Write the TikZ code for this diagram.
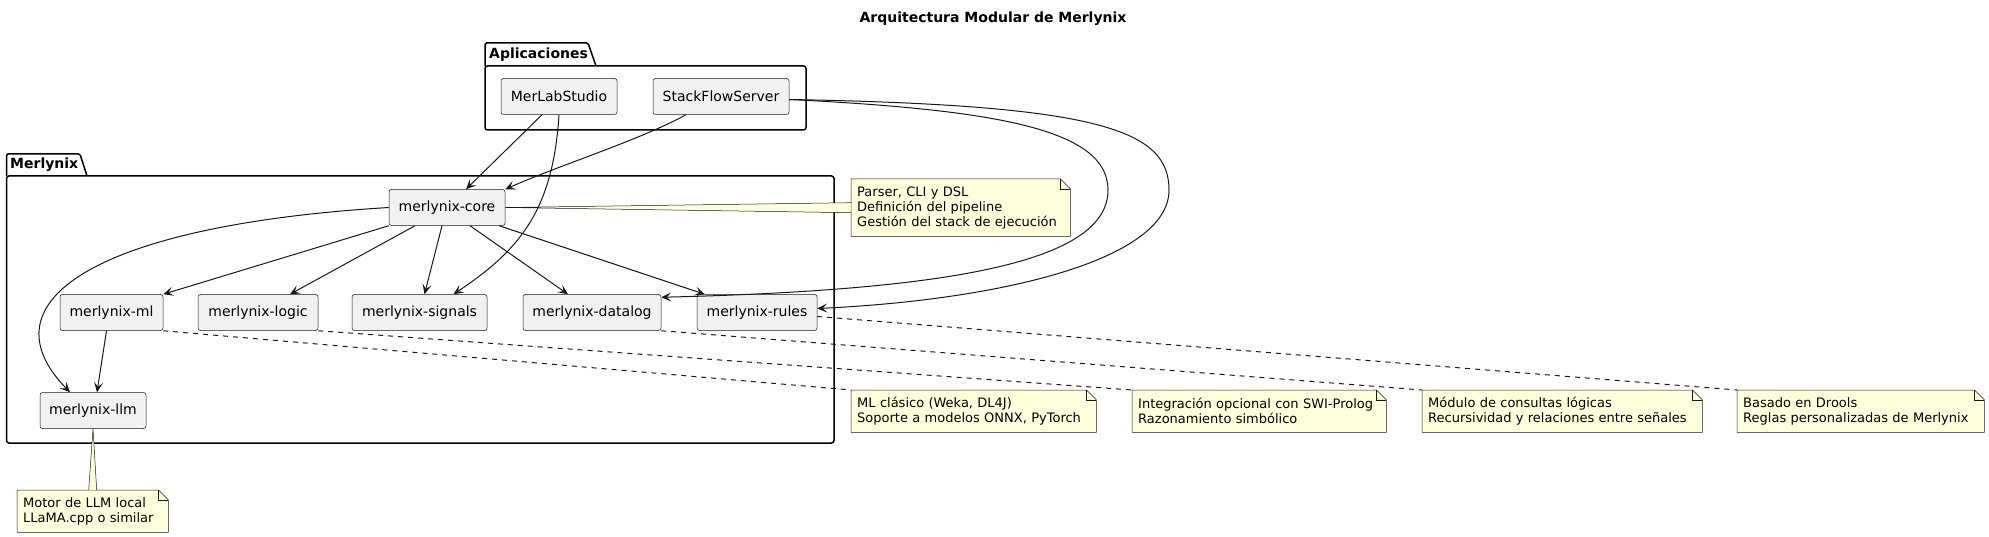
\documentclass[tikz,border=0pt]{standalone}
\usepackage{fontspec}
\setmainfont{DejaVu Sans}
\usetikzlibrary{arrows.meta}
\definecolor{linecol}{HTML}{181818}
\definecolor{compfill}{HTML}{F1F1F1}
\definecolor{notefill}{HTML}{FEFFDD}

\begin{document}
\begin{tikzpicture}[x=1pt,y=-1pt,
  comp/.style={rectangle,rounded corners=2.5pt,draw=linecol,line width=0.5pt,fill=compfill,
    minimum height=36pt,inner sep=0pt,font=\fontsize{14}{16}\selectfont},
  notebox/.style={rectangle,fill=notefill,anchor=north west,inner xsep=6pt,inner ysep=0pt,
    align=left,font=\fontsize{13}{15}\selectfont},
  pkg/.style={draw=black,line width=1.5pt},
  pkglabel/.style={anchor=west,inner sep=0pt,font=\fontsize{14}{16}\selectfont\bfseries},
  dep/.style={draw=linecol,line width=1pt,-{Stealth[length=10pt,width=9pt,inset=4.5pt]}},
  link/.style={draw=linecol,line width=1pt,dash pattern=on 5pt off 5pt},
  tail/.style={fill=notefill,draw=linecol,line width=0.5pt}]

  \useasboundingbox (0,0) rectangle (1989,537);
  \node[font=\fontsize{14}{16}\selectfont\bfseries] (title) at (993,19) {Arquitectura Modular de Merlynix};

  \draw[pkg,rounded corners=1.5pt] (485,66) -- (485,43) -- (588,43) -- (596,66);
  \draw[pkg,rounded corners=2.5pt] (485,66) rectangle (806,130);
  \node[pkglabel] (apps) at (489,55) {Aplicaciones};

  \draw[pkg,rounded corners=1.5pt] (6.5,176) -- (6.5,154) -- (80,154) -- (87,176);
  \draw[pkg,rounded corners=2.5pt] (6.5,176) rectangle (834,443);
  \node[pkglabel] (merlynix) at (10,165) {Merlynix};

  \node[comp,minimum width=116pt] (merlab) at (559,96.5) {MerLabStudio};
  \node[comp,minimum width=136pt] (stackflow) at (721,96.5) {StackFlowServer};
  \node[comp,minimum width=116pt] (core) at (447,207.5) {merlynix-core};
  \node[comp,minimum width=103pt] (ml) at (111.5,312.5) {merlynix-ml};
  \node[comp,minimum width=120pt] (logic) at (258,312.5) {merlynix-logic};
  \node[comp,minimum width=135pt] (signals) at (419.5,312.5) {merlynix-signals};
  \node[comp,minimum width=138pt] (datalog) at (592,312.5) {merlynix-datalog};
  \node[comp,minimum width=120pt] (rules) at (757,312.5) {merlynix-rules};
  \node[comp,minimum width=106pt] (llm) at (93,410.5) {merlynix-llm};

  \node[notebox,text width=207pt,minimum height=57pt] (corenote) at (851,179)
    {Parser, CLI y DSL\\Definición del pipeline\\Gestión del stack de ejecución};
  \node[notebox,text width=233pt,minimum height=42pt] (mlnote) at (851,390)
    {ML clásico (Weka, DL4J)\\Soporte a modelos ONNX, PyTorch};
  \node[notebox,text width=242pt,minimum height=42pt] (intnote) at (1132,390)
    {Integración opcional con SWI-Prolog\\Razonamiento simbólico};
  \node[notebox,text width=268pt,minimum height=42pt] (modnote) at (1422,390)
    {Módulo de consultas lógicas\\Recursividad y relaciones entre señales};
  \node[notebox,text width=235pt,minimum height=42pt] (basnote) at (1737,390)
    {Basado en Drools\\Reglas personalizadas de Merlynix};
  \node[notebox,text width=139pt,minimum height=42pt] (llmnote) at (17,490)
    {Motor de LLM local\\LLaMA.cpp o similar};

  \foreach \n in {corenote,mlnote,intnote,modnote,basnote,llmnote} {
    \fill[white] ([xshift=-10pt]\n.north east) -- (\n.north east) -- ([yshift=-10pt]\n.north east) -- cycle;
    \draw[linecol,line width=0.5pt] (\n.north west) -- ([xshift=-10pt]\n.north east)
      -- ([yshift=-10pt]\n.north east) -- (\n.south east) -- (\n.south west) -- cycle;
    \draw[linecol,line width=0.5pt] ([xshift=-10pt]\n.north east)
      -- ([xshift=-10pt,yshift=-10pt]\n.north east) -- ([yshift=-10pt]\n.north east);
  }

  \filldraw[tail] ([yshift=5pt]corenote.west) -- (core.east) -- ([yshift=-5pt]corenote.west);
  \filldraw[tail] ([xshift=-4pt]llmnote.north) -- (llm.south) -- ([xshift=4pt]llmnote.north);

  \draw[dep] ([xshift=-17pt]merlab.south) -- ([xshift=19pt]core.north);
  \draw[dep] ([xshift=-35pt]stackflow.south) .. controls (640,140) and (560,165) .. (core.north east);
  \draw[dep] (merlab.south) .. controls (553,210) and (520,250) .. ([xshift=34pt]signals.north);
  \draw[dep] ([yshift=-3pt]stackflow.east) .. controls (1000,110) and (1108,130) .. (1108,190)
    .. controls (1108,260) and (960,290) .. ([yshift=-3pt]datalog.north east);
  \draw[dep] ([yshift=-3pt]stackflow.east) .. controls (1100,105) and (1169,130) .. (1169,190)
    .. controls (1169,260) and (1000,300) .. ([yshift=4pt]rules.east);

  \draw[dep] (core.west) .. controls (100,225) and (-20,300) .. ([xshift=-23pt]llm.north);
  \draw[dep] (core.south west) -- (ml.north east);
  \draw[dep] ([xshift=-32pt]core.south) -- ([xshift=32pt]logic.north);
  \draw[dep] ([xshift=-5pt]core.south) -- ([xshift=5pt]signals.north);
  \draw[dep] ([xshift=23pt]core.south) -- ([xshift=-24pt]datalog.north);
  \draw[dep] ([xshift=-6pt]core.south east) -- ([xshift=8pt]rules.north west);
  \draw[dep] ([xshift=-5pt]ml.south) -- ([xshift=4pt]llm.north);

  \draw[link] (ml.south east) -- (mlnote.north west);
  \draw[link] (logic.south east) -- (intnote.north west);
  \draw[link] (datalog.south east) -- (modnote.north west);
  \draw[link] ([yshift=-4pt]rules.east) -- (basnote.north west);
\end{tikzpicture}
\end{document}
